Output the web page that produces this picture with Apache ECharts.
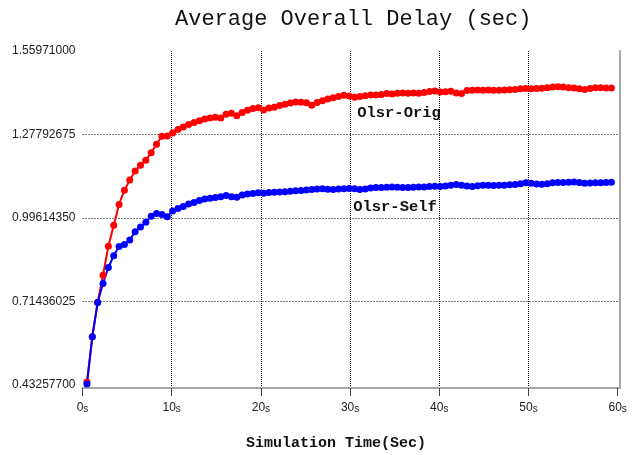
<!DOCTYPE html>
<html>
<head>
<meta charset="utf-8">
<script src="https://cdn.jsdelivr.net/npm/echarts@6/dist/echarts.min.js"></script>
<style>html,body{margin:0;padding:0;background:#fff;}#c{width:639px;height:455px;}</style>
</head>
<body>
<div id="c"></div>
<script>
// Simulation times (sec)
var times = [
  0.5, 1.1, 1.7, 2.3, 2.9, 3.5, 4.1, 4.7, 5.3, 5.9,
  6.5, 7.1, 7.7, 8.3, 8.9, 9.5, 10.1, 10.7, 11.3, 11.9,
  12.5, 13.1, 13.7, 14.3, 14.9, 15.5, 16.1, 16.7, 17.3, 17.9,
  18.5, 19.1, 19.7, 20.3, 20.9, 21.5, 22.1, 22.7, 23.3, 23.9,
  24.5, 25.1, 25.7, 26.3, 26.9, 27.5, 28.1, 28.7, 29.3, 29.9,
  30.5, 31.1, 31.7, 32.3, 32.9, 33.5, 34.1, 34.7, 35.3, 35.9,
  36.5, 37.1, 37.7, 38.3, 38.9, 39.5, 40.1, 40.7, 41.3, 41.9,
  42.5, 43.1, 43.7, 44.3, 44.9, 45.5, 46.1, 46.7, 47.3, 47.9,
  48.5, 49.1, 49.7, 50.3, 50.9, 51.5, 52.1, 52.7, 53.3, 53.9,
  54.5, 55.1, 55.7, 56.3, 56.9, 57.5, 58.1, 58.7, 59.3
];
// Olsr-Orig average delay
var olsrOrig = [
  0.443, 0.595, 0.712, 0.803, 0.901, 0.972, 1.042, 1.090, 1.124, 1.155,
  1.174, 1.191, 1.216, 1.245, 1.272, 1.273, 1.283, 1.295, 1.303, 1.312,
  1.318, 1.324, 1.330, 1.334, 1.336, 1.334, 1.346, 1.350, 1.341, 1.352,
  1.360, 1.366, 1.368, 1.361, 1.367, 1.370, 1.376, 1.380, 1.384, 1.388,
  1.387, 1.385, 1.377, 1.386, 1.392, 1.398, 1.402, 1.406, 1.410, 1.408,
  1.404, 1.406, 1.409, 1.411, 1.411, 1.413, 1.416, 1.415, 1.417, 1.418,
  1.417, 1.418, 1.417, 1.420, 1.423, 1.425, 1.421, 1.422, 1.424, 1.418,
  1.416, 1.426, 1.427, 1.428, 1.427, 1.428, 1.427, 1.427, 1.428, 1.429,
  1.430, 1.432, 1.433, 1.432, 1.433, 1.434, 1.436, 1.438, 1.439, 1.438,
  1.436, 1.435, 1.432, 1.430, 1.433, 1.436, 1.436, 1.435, 1.435
];
// Olsr-Self average delay
var olsrSelf = [
  0.4355, 0.595, 0.711, 0.775, 0.829, 0.869, 0.900, 0.907, 0.922, 0.950,
  0.966, 0.982, 1.002, 1.011, 1.008, 1.000, 1.020, 1.028, 1.035, 1.043,
  1.048, 1.055, 1.060, 1.063, 1.065, 1.068, 1.072, 1.068, 1.066, 1.074,
  1.077, 1.079, 1.081, 1.080, 1.082, 1.083, 1.084, 1.085, 1.086, 1.088,
  1.089, 1.091, 1.092, 1.094, 1.095, 1.093, 1.092, 1.094, 1.095, 1.096,
  1.095, 1.092, 1.094, 1.097, 1.099, 1.099, 1.100, 1.101, 1.100, 1.099,
  1.099, 1.100, 1.101, 1.101, 1.102, 1.103, 1.102, 1.104, 1.107, 1.109,
  1.107, 1.104, 1.102, 1.105, 1.107, 1.107, 1.106, 1.107, 1.107, 1.108,
  1.109, 1.112, 1.115, 1.113, 1.111, 1.110, 1.112, 1.115, 1.116, 1.116,
  1.117, 1.118, 1.116, 1.113, 1.114, 1.115, 1.115, 1.116, 1.117
];
var xTicks = [0, 10, 20, 30, 40, 50, 60];
var yTicks = [0.432577, 0.71436025, 0.9961435, 1.27792675, 1.55971];

function pairs(xs, ys) { return xs.map(function (x, i) { return [x, ys[i]]; }); }

var chart = echarts.init(document.getElementById('c'), null, { renderer: 'canvas' });
chart.setOption({
  animation: false,
  backgroundColor: '#fff',
  title: {
    text: 'Average Overall Delay (sec)',
    left: 170, top: 3,
    textStyle: { fontFamily: '"Liberation Mono", monospace', fontSize: 22, fontWeight: 'normal', color: '#111' }
  },
  grid: { left: 82.5, right: 19, top: 51, bottom: 67, containLabel: false },
  xAxis: {
    type: 'value', min: 0, max: 60.26,
    axisLine: { show: true, lineStyle: { color: '#a8a8a8', width: 2 } },
    axisTick: { show: true, length: 8, customValues: xTicks, lineStyle: { color: '#444', width: 1 } },
    axisLabel: {
      customValues: xTicks, margin: 14,
      formatter: function (v) { return '{n|' + v + '}{s|s}'; },
      rich: {
        n: { fontFamily: '"Liberation Sans", Arial, sans-serif', fontSize: 12, color: '#222' },
        s: { fontFamily: '"Liberation Sans", Arial, sans-serif', fontSize: 10, color: '#222', padding: [2, 0, 0, 0] }
      }
    },
    splitLine: {
      show: true, showMinLine: false, showMaxLine: false,
      lineStyle: { color: ['#000', '#000', '#000', '#000', '#000', 'rgba(0,0,0,0)'], width: 1, type: [1, 1] }
    }
  },
  yAxis: [{
    type: 'value', min: 0.42235, max: 1.55971,
    axisLine: { show: false },
    axisTick: { show: false, customValues: yTicks },
    axisLabel: {
      customValues: yTicks, margin: 7,
      formatter: function (v) { return v.toFixed(8); },
      fontFamily: '"Liberation Sans", Arial, sans-serif', fontSize: 12, color: '#222'
    },
    splitLine: { show: true, showMinLine: false, showMaxLine: false, lineStyle: { color: '#000', width: 1, type: [1, 2] } }
  }, {
    type: 'value', min: 0.42235, max: 1.55971, position: 'right',
    axisLine: { show: true, lineStyle: { color: '#a8a8a8', width: 2 } },
    axisTick: { show: false }, axisLabel: { show: false }, splitLine: { show: false }
  }],
  series: [{
    name: 'Olsr-Orig', type: 'line', data: pairs(times, olsrOrig),
    symbol: 'circle', symbolSize: 7, showAllSymbol: true,
    lineStyle: { color: '#ff0000', width: 2 }, itemStyle: { color: '#ff0000' }
  }, {
    name: 'Olsr-Self', type: 'line', data: pairs(times, olsrSelf),
    symbol: 'circle', symbolSize: 7, showAllSymbol: true,
    lineStyle: { color: '#0000ff', width: 2 }, itemStyle: { color: '#0000ff' }
  }],
  graphic: [
    { type: 'text', x: 399, y: 113, style: { text: 'Olsr-Orig', align: 'center', verticalAlign: 'middle', font: 'bold 15.5px "Liberation Mono", monospace', fill: '#111' } },
    { type: 'text', x: 395, y: 207, style: { text: 'Olsr-Self', align: 'center', verticalAlign: 'middle', font: 'bold 15.5px "Liberation Mono", monospace', fill: '#111' } },
    { type: 'text', x: 336, y: 443, style: { text: 'Simulation Time(Sec)', align: 'center', verticalAlign: 'middle', font: 'bold 15px "Liberation Mono", monospace', fill: '#111' } }
  ]
});
</script>
</body>
</html>
